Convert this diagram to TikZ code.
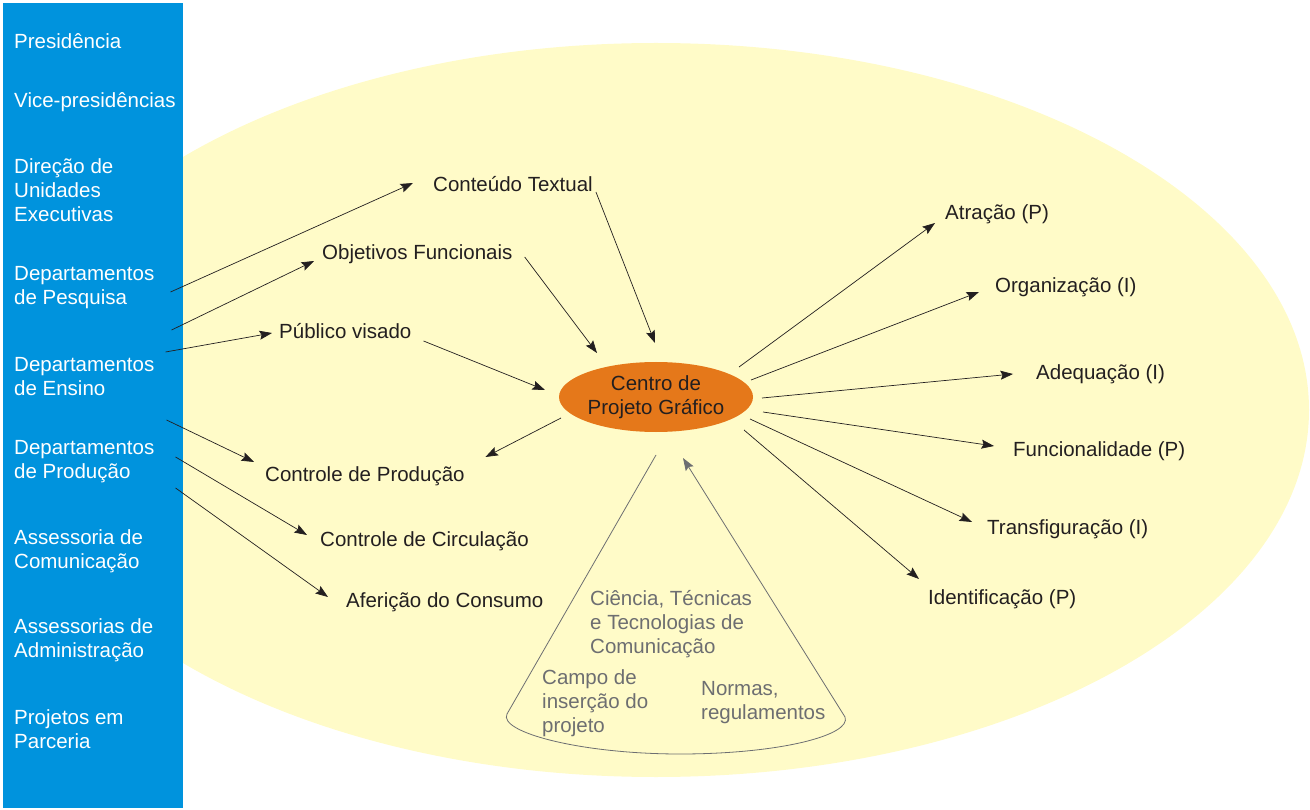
\documentclass[tikz,border=0pt]{standalone}
\usepackage{fontspec}
\setmainfont{Liberation Sans}
\usetikzlibrary{arrows.meta,shapes.geometric}
\definecolor{panelblue}{HTML}{0093DD}
\definecolor{fieldyellow}{HTML}{FFFBC8}
\definecolor{centreorange}{HTML}{E5781A}
\definecolor{conegray}{HTML}{6D6E71}
\definecolor{inkblack}{HTML}{231F20}
\begin{document}
\begin{tikzpicture}[x=1pt,y=-1pt,
	unitlbl/.style={anchor=west,inner sep=0pt,align=left,text=white,font=\fontsize{20.5}{24}\selectfont},
	itemlbl/.style={anchor=west,inner sep=0pt,text height=15pt,text depth=4.5pt,text=inkblack,font=\fontsize{20.5}{24}\selectfont},
	conelbl/.style={anchor=west,inner sep=0pt,align=left,text=conegray,font=\fontsize{20.5}{24}\selectfont},
	arr/.style={draw=inkblack,line width=0.7pt,-{Stealth[length=12.5pt,width=9pt,inset=2pt]}},
	conearr/.style={draw=conegray,line width=0.8pt,-{Stealth[length=12.5pt,width=9pt,inset=2pt]}}]
	\useasboundingbox (0,0) rectangle (1310,810);

	% field and panel
	\fill[fieldyellow] (656,410) ellipse [x radius=653, y radius=367];
	\fill[panelblue] (3,3) rectangle (183,808);

	% units of the institution
	\node[unitlbl] (pres) at (14,41) {Presidência};
	\node[unitlbl] (vice) at (14,102) {Vice-presidências};
	\node[unitlbl] (dir) at (14,190) {Direção de\\Unidades\\Executivas};
	\node[unitlbl] (pesq) at (14,288) {Departamentos\\de Pesquisa};
	\node[unitlbl] (ens) at (14,377) {Departamentos\\de Ensino};
	\node[unitlbl] (prod) at (14,462) {Departamentos\\de Produção};
	\node[unitlbl] (com) at (14,551) {Assessoria de\\Comunicação};
	\node[unitlbl] (adm) at (14,640) {Assessorias de\\Administração};
	\node[unitlbl] (parc) at (14,729) {Projetos em\\Parceria};

	% inputs and controls
	\node[itemlbl] (cont) at (433,186.5) {Conteúdo Textual};
	\node[itemlbl] (obj) at (322,254.5) {Objetivos Funcionais};
	\node[itemlbl] (pub) at (279,333) {Público visado};
	\node[itemlbl] (cprod) at (265,476.5) {Controle de Produção};
	\node[itemlbl] (ccirc) at (320,541.5) {Controle de Circulação};
	\node[itemlbl] (afer) at (346,602) {Aferição do Consumo};

	% centre
	\node[ellipse,fill=centreorange,minimum width=194pt,minimum height=70pt,inner sep=0pt,
		align=center,text=inkblack,font=\fontsize{20.5}{24}\selectfont] (cpg) at (656,397) {Centro de\\Projeto Gráfico};

	% qualities
	\node[itemlbl] (atr) at (945,214.5) {Atração (P)};
	\node[itemlbl] (org) at (995,287) {Organização (I)};
	\node[itemlbl] (adeq) at (1036,374.5) {Adequação (I)};
	\node[itemlbl] (func) at (1013,451.5) {Funcionalidade (P)};
	\node[itemlbl] (transf) at (987,529.5) {Transfiguração (I)};
	\node[itemlbl] (ident) at (928,599.5) {Identificação (P)};

	% cone of the project field
	\draw[conearr] (656,455) -- (507,714) .. controls (498,732) and (580,754) .. (680,754)
		.. controls (780,754) and (852,735) .. (845,717) -- (683,458);
	\node[conelbl] (cien) at (590,624) {Ciência, Técnicas\\e Tecnologias de\\Comunicação};
	\node[conelbl] (campo) at (542,703) {Campo de\\inserção do\\projeto};
	\node[conelbl] (normas) at (701,703) {Normas,\\regulamentos};

	% from the units
	\draw[arr] ([shift={(16,4)}]pesq.east) -- ([shift={(-20,-3.5)}]cont.west);
	\draw[arr] ([shift={(17,42)}]pesq.east) -- ([shift={(-8,6.5)}]obj.west);
	\draw[arr] ([shift={(11,-25)}]ens.east) -- ([shift={(-7,0)}]pub.west);
	\draw[arr] ([shift={(12,-42)}]prod.east) -- ([shift={(-11,-14.5)}]cprod.west);
	\draw[arr] ([shift={(21,-5)}]prod.east) -- ([shift={(-13,-6.5)}]ccirc.west);
	\draw[arr] ([shift={(21,26)}]prod.east) -- ([shift={(-18,-5)}]afer.west);

	% into and out of the centre
	\draw[arr] ([shift={(3,5.5)}]cont.east) -- ([shift={(-1,-54)}]cpg.center);
	\draw[arr] ([shift={(12,2.5)}]obj.east) -- ([shift={(-59,-44)}]cpg.center);
	\draw[arr] ([shift={(12,8)}]pub.east) -- ([shift={(-111,-7)}]cpg.center);
	\draw[arr] ([shift={(-95,21)}]cpg.center) -- ([shift={(20.6,-19.5)}]cprod.east);
	\foreach \nm/\sx/\sy/\ex/\ey in {atr/83/-30/-10/8.5, org/95/-17/-16/5, adeq/106/1/-23/-0.5,
		func/107/15/-19/-5.5, transf/94/22/-15/-7.5, ident/88/33/-9/-20.5} {
		\draw[arr] ([shift={(\sx,\sy)}]cpg.center) -- ([shift={(\ex,\ey)}]\nm.west);
	}
\end{tikzpicture}
\end{document}
